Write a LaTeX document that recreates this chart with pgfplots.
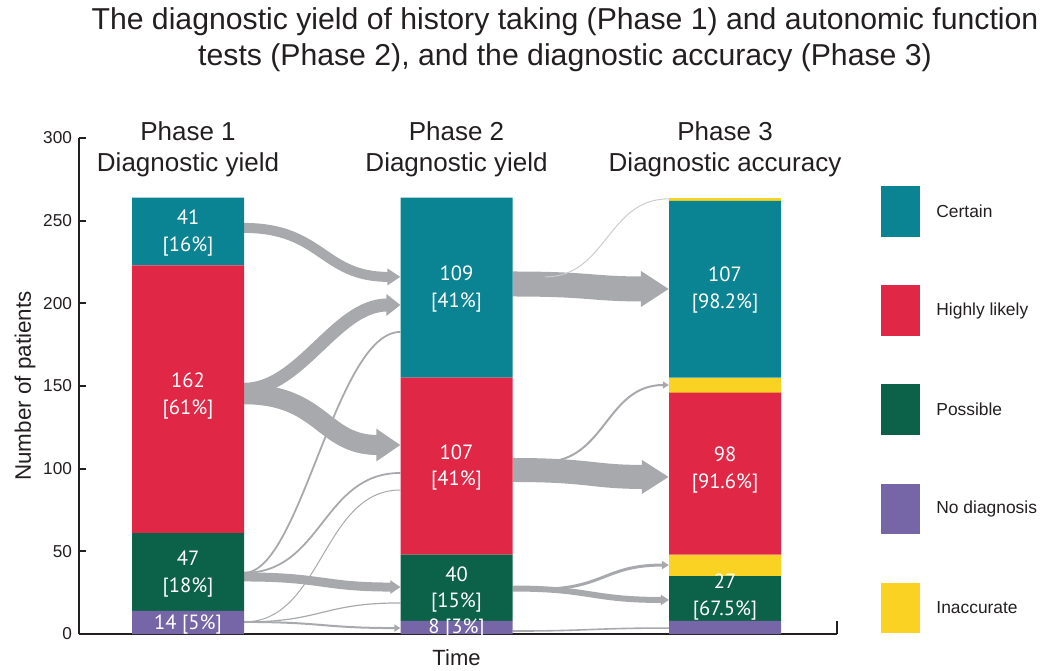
\documentclass[border=0pt]{standalone}
\usepackage{pgfplots}
\pgfplotsset{compat=1.18}
\usepackage{fontspec}
\setmainfont{Liberation Sans}
\newfontfamily\barfont{PT Sans}
\usetikzlibrary{arrows.meta}
\definecolor{cteal}{HTML}{0A8392}
\definecolor{cred}{HTML}{E02846}
\definecolor{cgreen}{HTML}{0C6248}
\definecolor{cpurple}{HTML}{7666A8}
\definecolor{cyellow}{HTML}{FAD223}
\definecolor{cflow}{HTML}{A8A9AD}
\definecolor{cthin}{HTML}{CCCCCE}
\definecolor{caxis}{HTML}{231F20}
\begin{document}
\begin{tikzpicture}
\useasboundingbox (-39.5pt,-18pt) rectangle (481.5pt,317pt);
\begin{axis}[
  at={(0pt,0pt)}, anchor=south west,
  scale only axis, width=379pt, height=248pt,
  xmin=-0.406, xmax=2.417, ymin=0, ymax=300,
  axis x line=bottom, axis y line=left,
  axis line style={-, line width=1pt, color=caxis},
  xtick=\empty,
  ytick={0,50,...,300},
  ytick align=inside, major tick length=3.5pt,
  tick style={line width=1pt, color=caxis},
  yticklabel style={font=\fontsize{8.6}{10}\selectfont, text=caxis},
  /pgf/number format/assume math mode=true,
  ybar stacked, bar width=56pt,
  clip=false,
]
\addplot[fill=cpurple, draw=none] coordinates {(0,14) (1,8) (2,8)};
\addplot[fill=cgreen, draw=none] coordinates {(0,47) (1,40) (2,27)};
\addplot[fill=cyellow, draw=none] coordinates {(0,0) (1,0) (2,13)};
\addplot[fill=cred, draw=none] coordinates {(0,162) (1,107) (2,98)};
\addplot[fill=cyellow, draw=none] coordinates {(0,0) (1,0) (2,9)};
\addplot[fill=cteal, draw=none] coordinates {(0,41) (1,109) (2,107)};
\addplot[fill=cyellow, draw=none] coordinates {(0,0) (1,0) (2,2)};

% flows phase 1 -> phase 2
\draw[cflow, line width=0.9pt] (axis cs:0.209,37) .. controls (axis cs:0.42,37) and (axis cs:0.55,182.7) .. (axis cs:0.791,182.7);
\draw[cflow, line width=0.9pt] (axis cs:0.209,37) .. controls (axis cs:0.5,37) and (axis cs:0.5,97.4) .. (axis cs:0.791,97.4);
\draw[cflow, line width=0.5pt] (axis cs:0.209,7.3) .. controls (axis cs:0.5,7.3) and (axis cs:0.5,87.1) .. (axis cs:0.791,87.1);
\draw[cflow, line width=0.6pt] (axis cs:0.209,7.3) .. controls (axis cs:0.5,7.3) and (axis cs:0.5,18.8) .. (axis cs:0.791,18.8);
\draw[cflow, line width=1pt, -{Triangle[length=3pt,width=3.5pt]}] (axis cs:0.209,7.3) .. controls (axis cs:0.5,7.3) and (axis cs:0.5,3.6) .. (axis cs:0.791,3.6);
\draw[cflow, line width=5pt, -{Triangle[length=6.5pt,width=8pt]}] (axis cs:0.209,245.6) .. controls (axis cs:0.5,245.6) and (axis cs:0.5,216) .. (axis cs:0.791,216);
\draw[cflow, line width=6.5pt, -{Triangle[length=7pt,width=10.5pt]}] (axis cs:0.209,148) .. controls (axis cs:0.42,148) and (axis cs:0.55,199) .. (axis cs:0.791,199);
\draw[cflow, line width=10pt, -{Triangle[length=12pt,width=15.5pt]}] (axis cs:0.209,145) .. controls (axis cs:0.5,145) and (axis cs:0.5,114.3) .. (axis cs:0.791,114.3);
\draw[cflow, line width=4.5pt, -{Triangle[length=5pt,width=6.5pt]}] (axis cs:0.209,34.5) .. controls (axis cs:0.5,34.5) and (axis cs:0.5,28.4) .. (axis cs:0.791,28.4);

% flows phase 2 -> phase 3
\draw[cthin, line width=0.5pt] (axis cs:1.33,216) .. controls (axis cs:1.56,216) and (axis cs:1.56,263.2) .. (axis cs:1.791,263.2);
\draw[cflow, line width=1pt, -{Triangle[length=3pt,width=3.5pt]}] (axis cs:1.322,104) .. controls (axis cs:1.556,104) and (axis cs:1.556,150.6) .. (axis cs:1.791,150.6);
\draw[cflow, line width=12.5pt, -{Triangle[length=14pt,width=17pt]}] (axis cs:1.209,211.7) .. controls (axis cs:1.5,211.7) and (axis cs:1.5,208.7) .. (axis cs:1.791,208.7);
\draw[cflow, line width=12pt, -{Triangle[length=13.5pt,width=16pt]}] (axis cs:1.209,99.2) .. controls (axis cs:1.5,99.2) and (axis cs:1.5,95) .. (axis cs:1.791,95);
\draw[cflow, line width=1.5pt, -{Triangle[length=3.5pt,width=4pt]}] (axis cs:1.30,27) .. controls (axis cs:1.55,27) and (axis cs:1.55,41.7) .. (axis cs:1.791,41.7);
\draw[cflow, line width=3pt, -{Triangle[length=4pt,width=5pt]}] (axis cs:1.209,27.5) .. controls (axis cs:1.5,27.5) and (axis cs:1.5,20.6) .. (axis cs:1.791,20.6);
\draw[cflow, line width=0.8pt] (axis cs:1.209,1.8) .. controls (axis cs:1.5,1.8) and (axis cs:1.5,3.6) .. (axis cs:1.791,3.6);

% label anchors
\coordinate (a1) at (axis cs:0,242.4);
\coordinate (a2) at (axis cs:0,144.1);
\coordinate (a3) at (axis cs:0,36.1);
\coordinate (a4) at (axis cs:0,6.0);
\coordinate (b1) at (axis cs:1,208.5);
\coordinate (b2) at (axis cs:1,100.8);
\coordinate (b3) at (axis cs:1,27.0);
\coordinate (b4) at (axis cs:1,3.6);
\coordinate (c1) at (axis cs:2,207.9);
\coordinate (c2) at (axis cs:2,99.0);
\coordinate (c3) at (axis cs:2,22.2);

% phase headers
\tikzset{ph/.style={align=center, text=caxis, font=\fontsize{13}{15.5}\selectfont}}
\node[ph] at (axis cs:0,293.4) {Phase 1\\Diagnostic yield};
\node[ph] at (axis cs:1,293.4) {Phase 2\\Diagnostic yield};
\node[ph] at (axis cs:2,293.4) {Phase 3\\Diagnostic accuracy};

\draw[caxis, line width=1pt] (axis cs:2.417,0) -- ++(0pt,6.5pt);
\node[text=caxis, font=\fontsize{11}{13}\selectfont] at (axis cs:1,0) [yshift=-12pt] {Time};
\node[text=caxis, rotate=90, font=\fontsize{11.2}{13}\selectfont] at (axis cs:-0.607,150) {Number of patients};
\end{axis}

% bar labels
\tikzset{bl/.style={text=white, align=center, inner sep=0pt, font=\barfont\fontsize{10.3}{13.3}\selectfont}}
\node[bl] at (a1) {41\\{[16\%]}};
\node[bl] at (a2) {162\\{[61\%]}};
\node[bl] at (a3) {47\\{[18\%]}};
\node[bl] at (a4) {14 [5\%]};
\node[bl] at (b1) {109\\{[41\%]}};
\node[bl] at (b2) {107\\{[41\%]}};
\node[bl] at (b3) {40\\{[15\%]}};
\node[bl] at (b4) {8 [3\%]};
\node[bl] at (c1) {107\\{[98.2\%]}};
\node[bl] at (c2) {98\\{[91.6\%]}};
\node[bl] at (c3) {27\\{[67.5\%]}};

% title
\node[align=center, text=caxis, font=\fontsize{15.1}{18}\selectfont] at (243pt,297pt) {The diagnostic yield of history taking (Phase 1) and autonomic function\\tests (Phase 2), and the diagnostic accuracy (Phase 3)};

% legend
\tikzset{lg/.style={anchor=west, inner sep=0pt, text=caxis, font=\fontsize{8.7}{10}\selectfont}}
\fill[cteal] (401pt,198.5pt) rectangle (420.5pt,224pt);
\node[lg] at (428.5pt,211.25pt) {Certain};
\fill[cred] (401pt,149pt) rectangle (420.5pt,174.5pt);
\node[lg] at (428.5pt,161.75pt) {Highly likely};
\fill[cgreen] (401pt,99.5pt) rectangle (420.5pt,125pt);
\node[lg] at (428.5pt,112.25pt) {Possible};
\fill[cpurple] (401pt,50pt) rectangle (420.5pt,75pt);
\node[lg] at (428.5pt,62.5pt) {No diagnosis};
\fill[cyellow] (401pt,0.5pt) rectangle (420.5pt,25.5pt);
\node[lg] at (428.5pt,13pt) {Inaccurate};
\end{tikzpicture}
\end{document}
